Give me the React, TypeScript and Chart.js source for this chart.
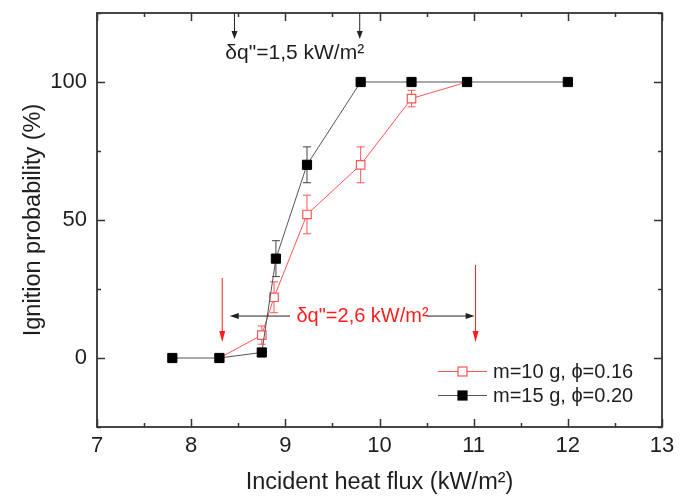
import React, { useEffect, useRef } from 'react';
import { Chart, registerables } from 'chart.js';
Chart.register(...registerables);

// ---- data ----
const flux15 = [7.8, 8.3, 8.75, 8.9, 9.23, 9.8, 10.34, 10.93, 12.0];
const prob15 = [0, 0, 2, 36, 70, 100, 100, 100, 100];
const err15 = [0, 0, 0, 6.5, 6.5, 0, 0, 0, 0];

const flux10 = [8.3, 8.75, 8.88, 9.23, 9.8, 10.34, 10.93];
const prob10 = [0, 8.3, 22, 52, 70, 94, 100];
const err10 = [0, 3.3, 5.6, 7, 6.5, 3, 0];

const xTickLabels = [7, 8, 9, 10, 11, 12, 13];
const yTickLabels = [0, 50, 100];
const seriesLabels = ['m=10 g, \u03D5=0.16', 'm=15 g, \u03D5=0.20'];
const xTitle = 'Incident heat flux (kW/m\u00B2)';
const yTitle = 'Ignition probability (%)';
const topNote = '\u03B4q"=1,5 kW/m\u00B2';
const bottomNote = '\u03B4q"=2,6 kW/m\u00B2';

const RED = 'rgb(255,85,85)';
const ANN_RED = 'rgb(255,30,30)';
const FRAME = '#333';
const TEXT = '#1e1e1e';
const FONT = "'Liberation Sans', Arial, sans-serif";

function arrow(ctx: CanvasRenderingContext2D, x1: number, y1: number, x2: number, y2: number, color: string, L: number, W: number) {
  const a = Math.atan2(y2 - y1, x2 - x1);
  ctx.save();
  ctx.strokeStyle = color;
  ctx.fillStyle = color;
  ctx.lineWidth = 1;
  ctx.beginPath();
  ctx.moveTo(x1, y1);
  ctx.lineTo(x2 - Math.cos(a) * (L - 1), y2 - Math.sin(a) * (L - 1));
  ctx.stroke();
  ctx.beginPath();
  ctx.moveTo(x2, y2);
  ctx.lineTo(x2 - Math.cos(a) * L - Math.sin(a) * W, y2 - Math.sin(a) * L + Math.cos(a) * W);
  ctx.lineTo(x2 - Math.cos(a) * L + Math.sin(a) * W, y2 - Math.sin(a) * L - Math.cos(a) * W);
  ctx.closePath();
  ctx.fill();
  ctx.restore();
}

const decor = {
  id: 'decor',
  beforeDatasetsDraw(chart: any) {
    const { ctx } = chart;
    const xs = chart.scales.x, ys = chart.scales.y;
    const sets = [
      { f: flux10, p: prob10, e: err10, c: RED },
      { f: flux15, p: prob15, e: err15, c: '#444' },
    ];
    ctx.save();
    ctx.lineWidth = 1;
    for (const s of sets) {
      ctx.strokeStyle = s.c;
      s.f.forEach((x, i) => {
        if (!s.e[i]) return;
        const px = xs.getPixelForValue(x);
        const top = ys.getPixelForValue(s.p[i] + s.e[i]);
        const bot = ys.getPixelForValue(s.p[i] - s.e[i]);
        ctx.beginPath();
        ctx.moveTo(px, top); ctx.lineTo(px, bot);
        ctx.moveTo(px - 4, top); ctx.lineTo(px + 4, top);
        ctx.moveTo(px - 4, bot); ctx.lineTo(px + 4, bot);
        ctx.stroke();
      });
    }
    ctx.restore();
  },
  afterDraw(chart: any) {
    const { ctx, chartArea: a } = chart;
    const xs = chart.scales.x, ys = chart.scales.y;
    ctx.save();
    // ticks (inward, mirrored)
    ctx.strokeStyle = FRAME;
    ctx.lineWidth = 1.5;
    ctx.beginPath();
    for (const t of xs.ticks) {
      const major = xTickLabels.includes(t.value);
      const len = major ? 8 : 4;
      const px = Math.round(xs.getPixelForValue(t.value)) + 0.5;
      ctx.moveTo(px, a.bottom); ctx.lineTo(px, a.bottom - len);
      ctx.moveTo(px, a.top); ctx.lineTo(px, a.top + len);
    }
    for (const t of ys.ticks) {
      const major = yTickLabels.includes(t.value);
      const len = major ? 8 : 4;
      const py = Math.round(ys.getPixelForValue(t.value)) + 0.5;
      ctx.moveTo(a.left, py); ctx.lineTo(a.left + len, py);
      ctx.moveTo(a.right, py); ctx.lineTo(a.right - len, py);
    }
    ctx.stroke();
    // frame
    ctx.lineWidth = 1.8;
    ctx.strokeRect(a.left, a.top, a.right - a.left, a.bottom - a.top);

    // top annotation
    const X = (v: number) => xs.getPixelForValue(v);
    const Y = (v: number) => ys.getPixelForValue(v);
    arrow(ctx, X(8.46), a.top, X(8.46), Y(115.6), '#222', 8, 3);
    arrow(ctx, X(9.79), a.top, X(9.79), Y(115.6), '#222', 8, 3);
    ctx.font = `21px ${FONT}`;
    ctx.fillStyle = TEXT;
    ctx.textAlign = 'center';
    ctx.textBaseline = 'middle';
    ctx.fillText(topNote, X(9.1), Y(110.5));

    // bottom annotation
    arrow(ctx, X(8.33), Y(29), X(8.33), Y(5.8), ANN_RED, 11, 3);
    arrow(ctx, X(11.02), Y(33.7), X(11.02), Y(5.8), ANN_RED, 11, 3);
    arrow(ctx, X(9.05), Y(15.2), X(8.41), Y(15.2), '#222', 9, 3);
    arrow(ctx, X(10.5), Y(15.2), X(11.01), Y(15.2), '#222', 9, 3);
    ctx.font = `20px ${FONT}`;
    ctx.fillStyle = ANN_RED;
    ctx.fillText(bottomNote, X(9.82), Y(15.2));

    // legend
    const rows = [
      { y: a.bottom - 56, line: RED, fill: '#fff', stroke: RED, text: seriesLabels[0] },
      { y: a.bottom - 32, line: '#555', fill: '#000', stroke: '#000', text: seriesLabels[1] },
    ];
    const lx = a.right - 224;
    ctx.font = `20px ${FONT}`;
    ctx.textAlign = 'left';
    for (const r of rows) {
      ctx.strokeStyle = r.line;
      ctx.lineWidth = 1;
      ctx.beginPath();
      ctx.moveTo(lx, r.y + 0.5); ctx.lineTo(lx + 49, r.y + 0.5);
      ctx.stroke();
      ctx.fillStyle = r.fill;
      ctx.fillRect(lx + 20, r.y - 4, 9, 9);
      ctx.strokeStyle = r.stroke;
      ctx.lineWidth = 1.2;
      ctx.strokeRect(lx + 20, r.y - 4, 9, 9);
      ctx.fillStyle = TEXT;
      ctx.fillText(r.text, lx + 55, r.y + 1);
    }
    ctx.restore();
  },
};

export default function App() {
  const ref = useRef<HTMLCanvasElement>(null);
  useEffect(() => {
    const canvas = ref.current!;
    const chart = new Chart(canvas, {
      type: 'scatter',
      data: {
        datasets: [
          {
            label: seriesLabels[0],
            data: flux10.map((x, i) => ({ x, y: prob10[i] })),
            showLine: true,
            borderColor: RED,
            borderWidth: 1,
            pointStyle: 'rect',
            pointRadius: 6,
            pointBackgroundColor: '#fff',
            pointBorderColor: RED,
            pointBorderWidth: 1.2,
            order: 1,
          },
          {
            label: seriesLabels[1],
            data: flux15.map((x, i) => ({ x, y: prob15[i] })),
            showLine: true,
            borderColor: '#555',
            borderWidth: 1,
            pointStyle: 'rect',
            pointRadius: 6.5,
            pointBackgroundColor: '#000',
            pointBorderColor: '#000',
            pointBorderWidth: 1,
            order: 0,
          },
        ],
      },
      options: {
        animation: false,
        responsive: false,
        layout: { padding: { top: 13, right: 28, left: 0, bottom: 0 } },
        plugins: { legend: { display: false }, tooltip: { enabled: false } },
        scales: {
          x: {
            type: 'linear',
            min: 7,
            max: 13,
            ticks: {
              stepSize: 0.5,
              autoSkip: false,
              maxRotation: 0,
              padding: 6,
              color: TEXT,
              font: { family: FONT, size: 22 },
              callback: (v: any) => (xTickLabels.includes(Number(v)) ? String(v) : ''),
            },
            grid: { display: false, drawTicks: false },
            border: { display: false },
            title: { display: true, text: xTitle, color: TEXT, font: { family: FONT, size: 23.5 }, padding: { top: 0, bottom: 0 } },
            afterFit: (s: any) => { s.height = 70; s.paddingLeft = 0; s.paddingRight = 0; },
          },
          y: {
            type: 'linear',
            min: -25,
            max: 125,
            ticks: {
              stepSize: 25,
              autoSkip: false,
              padding: 10,
              color: TEXT,
              font: { family: FONT, size: 22 },
              callback: (v: any) => (yTickLabels.includes(Number(v)) ? String(v) : ''),
            },
            grid: { display: false, drawTicks: false },
            border: { display: false },
            title: { display: true, text: yTitle, color: TEXT, font: { family: FONT, size: 23.5 }, padding: { top: 19, bottom: 0 } },
            afterFit: (s: any) => { s.width = 97; s.paddingTop = 0; s.paddingBottom = 0; },
          },
        },
      },
      plugins: [decor],
    } as any);
    return () => chart.destroy();
  }, []);
  return (
    <div style={{ position: 'absolute', left: 0, top: 0, width: 690, height: 497, background: '#fff' }}>
      <canvas ref={ref} width={690} height={497} style={{ display: 'block', width: 690, height: 497 }} />
    </div>
  );
}
